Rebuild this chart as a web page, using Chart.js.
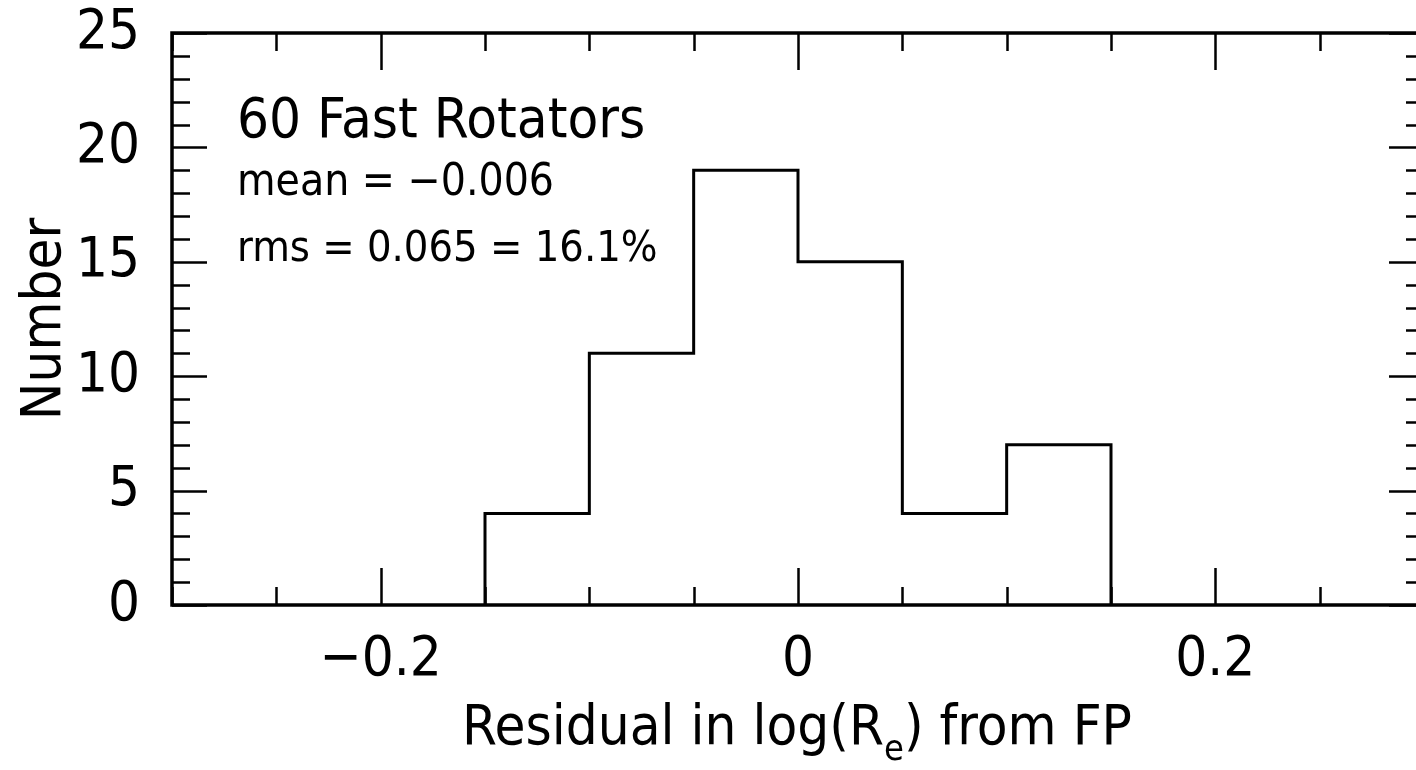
<!DOCTYPE html>
<html>
<head>
<meta charset="utf-8">
<script src="https://cdn.jsdelivr.net/npm/chart.js@4.4.1/dist/chart.umd.min.js"></script>
<style>
html, body { margin: 0; padding: 0; background: #fff; overflow: hidden; }
#wrap { width: 1428px; height: 770px; }
</style>
</head>
<body>
<div id="wrap"><canvas id="histChart" width="1428" height="770"></canvas></div>
<script>
// histogram of residuals
var binEdges = [-0.15, -0.10, -0.05, 0.00, 0.05, 0.10, 0.15];
var binCounts = [4, 11, 19, 15, 4, 7];
var xRange = [-0.3, 0.3];
var yRange = [0, 25];
var xLabelTicks = [-0.2, 0, 0.2];
var yLabelTicks = [0, 5, 10, 15, 20, 25];
var noteLines = ["60 Fast Rotators", "mean = \u22120.006", "rms = 0.065 = 16.1%"];

var FONT = "'DejaVu Sans Condensed', sans-serif";

// outline of the steps, built from the bins
var outline = [{ x: binEdges[0], y: 0 }];
for (var i = 0; i < binCounts.length; i++) {
    outline.push({ x: binEdges[i], y: binCounts[i] });
    outline.push({ x: binEdges[i + 1], y: binCounts[i] });
}
outline.push({ x: binEdges[binEdges.length - 1], y: 0 });

function isLabelTick(v, list) {
    for (var k = 0; k < list.length; k++) {
        if (Math.abs(v - list[k]) < 1e-6) return true;
    }
    return false;
}

var frameTicks = {
    id: 'frameTicks',
    beforeDraw: function (chart) {
        var c = chart.ctx;
        c.save();
        c.fillStyle = '#fff';
        c.fillRect(0, 0, chart.width, chart.height);
        c.restore();
    },
    afterDraw: function (chart) {
        var c = chart.ctx, a = chart.chartArea;
        var xs = chart.scales.x, ys = chart.scales.y;
        c.save();
        c.strokeStyle = '#000';
        c.lineWidth = 2.5;
        // x ticks every 0.05, long ones at labelled values
        for (var t = -6; t <= 6; t++) {
            var v = t * 0.05;
            var px = Math.round(xs.getPixelForValue(v)) + 0.5;
            var len = isLabelTick(v, xLabelTicks) ? 37 : 18;
            c.beginPath();
            c.moveTo(px, a.bottom); c.lineTo(px, a.bottom - len);
            c.moveTo(px, a.top); c.lineTo(px, a.top + len);
            c.stroke();
        }
        for (var n = yRange[0]; n <= yRange[1]; n++) {
            var py = Math.round(ys.getPixelForValue(n)) + 0.5;
            var ylen = (n % 5 === 0) ? 35 : 18;
            c.beginPath();
            c.moveTo(a.left, py); c.lineTo(a.left + ylen, py);
            c.moveTo(a.right, py); c.lineTo(a.right - ylen, py);
            c.stroke();
        }
        c.lineWidth = 3.5;
        c.strokeRect(a.left, a.top, a.right - a.left, a.bottom - a.top);

        // notes in the upper left
        c.fillStyle = '#000';
        c.textBaseline = 'alphabetic';
        c.textAlign = 'left';
        c.font = '56px ' + FONT;
        c.fillText(noteLines[0], a.left + 65, 137);
        c.font = '44px ' + FONT;
        c.fillText(noteLines[1], a.left + 65, 195);
        c.font = '43px ' + FONT;
        c.fillText(noteLines[2], a.left + 65, 261);

        // x title with subscript
        var part1 = 'Residual in log(R', sub = 'e', part2 = ') from FP';
        c.font = '56px ' + FONT;
        var w1 = c.measureText(part1).width, w3 = c.measureText(part2).width;
        c.font = '36px ' + FONT;
        var w2 = c.measureText(sub).width;
        var total = w1 + w2 + w3;
        var x0 = 797 - total / 2;
        c.font = '56px ' + FONT;
        c.fillText(part1, x0, 744);
        c.font = '36px ' + FONT;
        c.fillText(sub, x0 + w1, 760);
        c.font = '56px ' + FONT;
        c.fillText(part2, x0 + w1 + w2, 744);
        c.restore();
    }
};

var ctx = document.getElementById('histChart');
var histChart = new Chart(ctx, {
    type: 'scatter',
    data: {
        datasets: [{
            data: outline,
            showLine: true,
            borderColor: '#000',
            borderWidth: 3,
            pointRadius: 0,
            fill: false
        }]
    },
    options: {
        responsive: false,
        animation: false,
        devicePixelRatio: 1,
        layout: { autoPadding: false, padding: { top: 33, right: 4, left: 0, bottom: 0 } },
        plugins: { legend: { display: false }, tooltip: { enabled: false } },
        scales: {
            x: {
                type: 'linear',
                min: xRange[0],
                max: xRange[1],
                grid: { display: false, drawTicks: false },
                border: { display: false },
                afterFit: function (s) {
                    s.height = 165;
                    s.paddingLeft = 0; s.paddingRight = 0;
                },
                ticks: {
                    stepSize: 0.05,
                    autoSkip: false,
                    maxRotation: 0,
                    padding: 22,
                    color: '#000',
                    font: { family: FONT, size: 56 },
                    callback: function (v) {
                        if (!isLabelTick(v, xLabelTicks)) return '';
                        if (Math.abs(v) < 1e-6) return '0';
                        return (v < 0 ? '\u2212' : '') + Math.abs(v).toFixed(1);
                    }
                }
            },
            y: {
                min: yRange[0],
                max: yRange[1],
                grid: { display: false, drawTicks: false },
                border: { display: false },
                afterFit: function (s) {
                    s.width = 172;
                    s.paddingTop = 0; s.paddingBottom = 0;
                },
                title: {
                    display: true,
                    text: 'Number',
                    color: '#000',
                    font: { family: FONT, size: 56 },
                    padding: { top: 12, bottom: 0 }
                },
                ticks: {
                    stepSize: 1,
                    autoSkip: false,
                    padding: 32,
                    color: '#000',
                    font: { family: FONT, size: 56 },
                    callback: function (v) {
                        return isLabelTick(v, yLabelTicks) ? String(v) : '';
                    }
                }
            }
        }
    },
    plugins: [frameTicks]
});
</script>
</body>
</html>
